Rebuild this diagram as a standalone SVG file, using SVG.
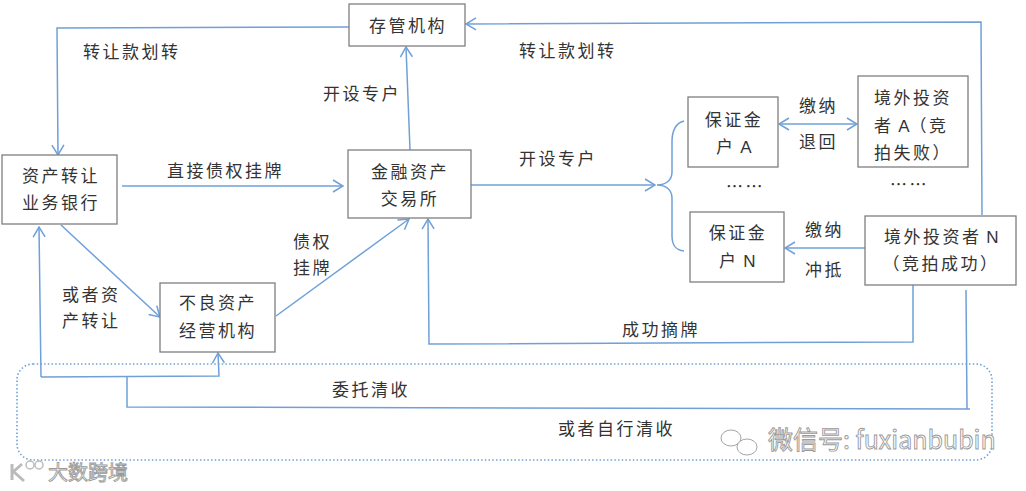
<svg xmlns="http://www.w3.org/2000/svg" width="1026" height="491" viewBox="0 0 1026 491">
<style>
.box{fill:#fff;stroke:#7f7f7f;stroke-width:1.3}
.ln{fill:none;stroke:#6fa0d8;stroke-width:1.5}
.t{font-family:"Noto Sans CJK SC","Noto Sans",sans-serif;font-size:17px;fill:#333;letter-spacing:2.5px}
.c{text-anchor:middle}
.lat{font-family:"Liberation Sans",Arial,sans-serif;letter-spacing:0}
.dot{fill:none;stroke:#6fa0d8;stroke-width:1.6;stroke-dasharray:1.5 2.2}
.wm{font-family:"Noto Sans CJK SC","Noto Sans",sans-serif;fill:#fff;stroke:#9a9a9a;stroke-width:0.9}
</style>
<defs>
<marker id="ar" viewBox="0 0 12 14" markerWidth="12" markerHeight="14" refX="11" refY="7" orient="auto-start-reverse" markerUnits="userSpaceOnUse">
<path d="M1,1 L11,7 L1,13" fill="none" stroke="#6fa0d8" stroke-width="1.5"/>
</marker>
</defs>
<rect width="1026" height="491" fill="#fff"/>

<g id="connectors">
<path class="ln" d="M349,27 L57,28 L58,155" marker-end="url(#ar)"/>
<path class="ln" d="M982,215 L981,22 L466,24" marker-end="url(#ar)"/>
<path class="ln" d="M410,150 L406,47" marker-end="url(#ar)"/>
<path class="ln" d="M122,186 L343,186" marker-end="url(#ar)"/>
<path class="ln" d="M471,185 L655,185" marker-end="url(#ar)"/>
<path class="ln" d="M684,121 C676,123 672,130 672,142 L672,172 C672,180 666,185 657,185 C666,185 672,190 672,198 L672,236 C672,246 676,250 684,251"/>
<path class="ln" d="M779,124 L857,124" marker-start="url(#ar)" marker-end="url(#ar)"/>
<path class="ln" d="M865,248 L785,248" marker-end="url(#ar)"/>
<path class="ln" d="M913,285 L913,342 L429,344 L428,219" marker-end="url(#ar)"/>
<path class="ln" d="M276,316 L409,219" marker-end="url(#ar)"/>
<path class="ln" d="M61,225 L160,317" marker-end="url(#ar)"/>
<path class="ln" d="M41,377 L39,227" marker-end="url(#ar)"/>
<path class="ln" d="M41,377 L219,376 L218,353" marker-end="url(#ar)"/>
<path class="ln" d="M127,377 L127,407 L970,409"/>
<path class="ln" d="M966,290 L967,409"/>
<rect class="dot" x="17" y="364" width="975" height="96" rx="16"/>
</g>

<g id="n-custody"><rect class="box" x="349" y="4" width="116" height="42"/><text class="t c" x="408" y="32">存管机构</text></g>
<g id="n-bank"><rect class="box" x="2" y="155" width="115" height="69"/><text class="t c" x="61" y="182">资产转让</text><text class="t c" x="61" y="209">业务银行</text></g>
<g id="n-exchange"><rect class="box" x="348" y="150" width="123" height="68"/><text class="t c" x="410" y="178">金融资产</text><text class="t c" x="410" y="205">交易所</text></g>
<g id="n-npl"><rect class="box" x="160" y="283" width="115" height="69"/><text class="t c" x="218" y="309">不良资产</text><text class="t c" x="218" y="337">经营机构</text></g>
<g id="n-depA"><rect class="box" x="688" y="97" width="90" height="70"/><text class="t c" x="734" y="126">保证金</text><text class="t" x="716" y="153">户<tspan class="lat"> A</tspan></text></g>
<g id="n-invA"><rect class="box" x="858" y="76" width="110" height="91"/><text class="t" x="874" y="104">境外投资</text><text class="t" x="874" y="132">者<tspan class="lat"> A</tspan>（竞</text><text class="t" x="874" y="159">拍失败）</text></g>
<g id="n-depN"><rect class="box" x="690" y="212" width="94" height="70"/><text class="t c" x="738" y="239">保证金</text><text class="t" x="719" y="267">户<tspan class="lat"> N</tspan></text></g>
<g id="n-invN"><rect class="box" x="865" y="216" width="151" height="69"/><text class="t" x="884" y="243">境外投资者<tspan class="lat"> N</tspan></text><text class="t c" x="941" y="270">（竞拍成功）</text></g>

<g id="labels">
<text class="t" x="83" y="58">转让款划转</text>
<text class="t" x="519" y="57">转让款划转</text>
<text class="t" x="323" y="100">开设专户</text>
<text class="t" x="167" y="177">直接债权挂牌</text>
<text class="t" x="519" y="165">开设专户</text>
<text class="t" x="799" y="112">缴纳</text>
<text class="t" x="799" y="148">退回</text>
<text class="t" x="726" y="193">……</text>
<text class="t" x="890" y="191">……</text>
<text class="t" x="805" y="236">缴纳</text>
<text class="t" x="805" y="276">冲抵</text>
<text class="t" x="622" y="336">成功摘牌</text>
<text class="t" x="293" y="248">债权</text>
<text class="t" x="293" y="274">挂牌</text>
<text class="t" x="62" y="301">或者资</text>
<text class="t" x="62" y="327">产转让</text>
<text class="t" x="332" y="396">委托清收</text>
<text class="t" x="558" y="435">或者自行清收</text>
</g>

<g id="watermark">
<text class="wm" x="768" y="449" font-size="25">微信号: fuxianbubin</text>
<ellipse cx="731" cy="438" rx="10" ry="8" fill="#fff" stroke="#9a9a9a" stroke-width="0.9"/>
<ellipse cx="747" cy="447" rx="10" ry="8" fill="#fff" stroke="#9a9a9a" stroke-width="0.9"/>
<text class="wm" x="48" y="480" font-size="20">大数跨境</text>
<path d="M12,464 L12,480 M13,472 L22,464 M14,472 L24,481" fill="none" stroke="#bbb" stroke-width="3"/>
<circle cx="30" cy="465" r="4" fill="none" stroke="#bbb" stroke-width="1.5"/>
<circle cx="39" cy="465" r="4" fill="none" stroke="#bbb" stroke-width="1.5"/>
</g>
</svg>
